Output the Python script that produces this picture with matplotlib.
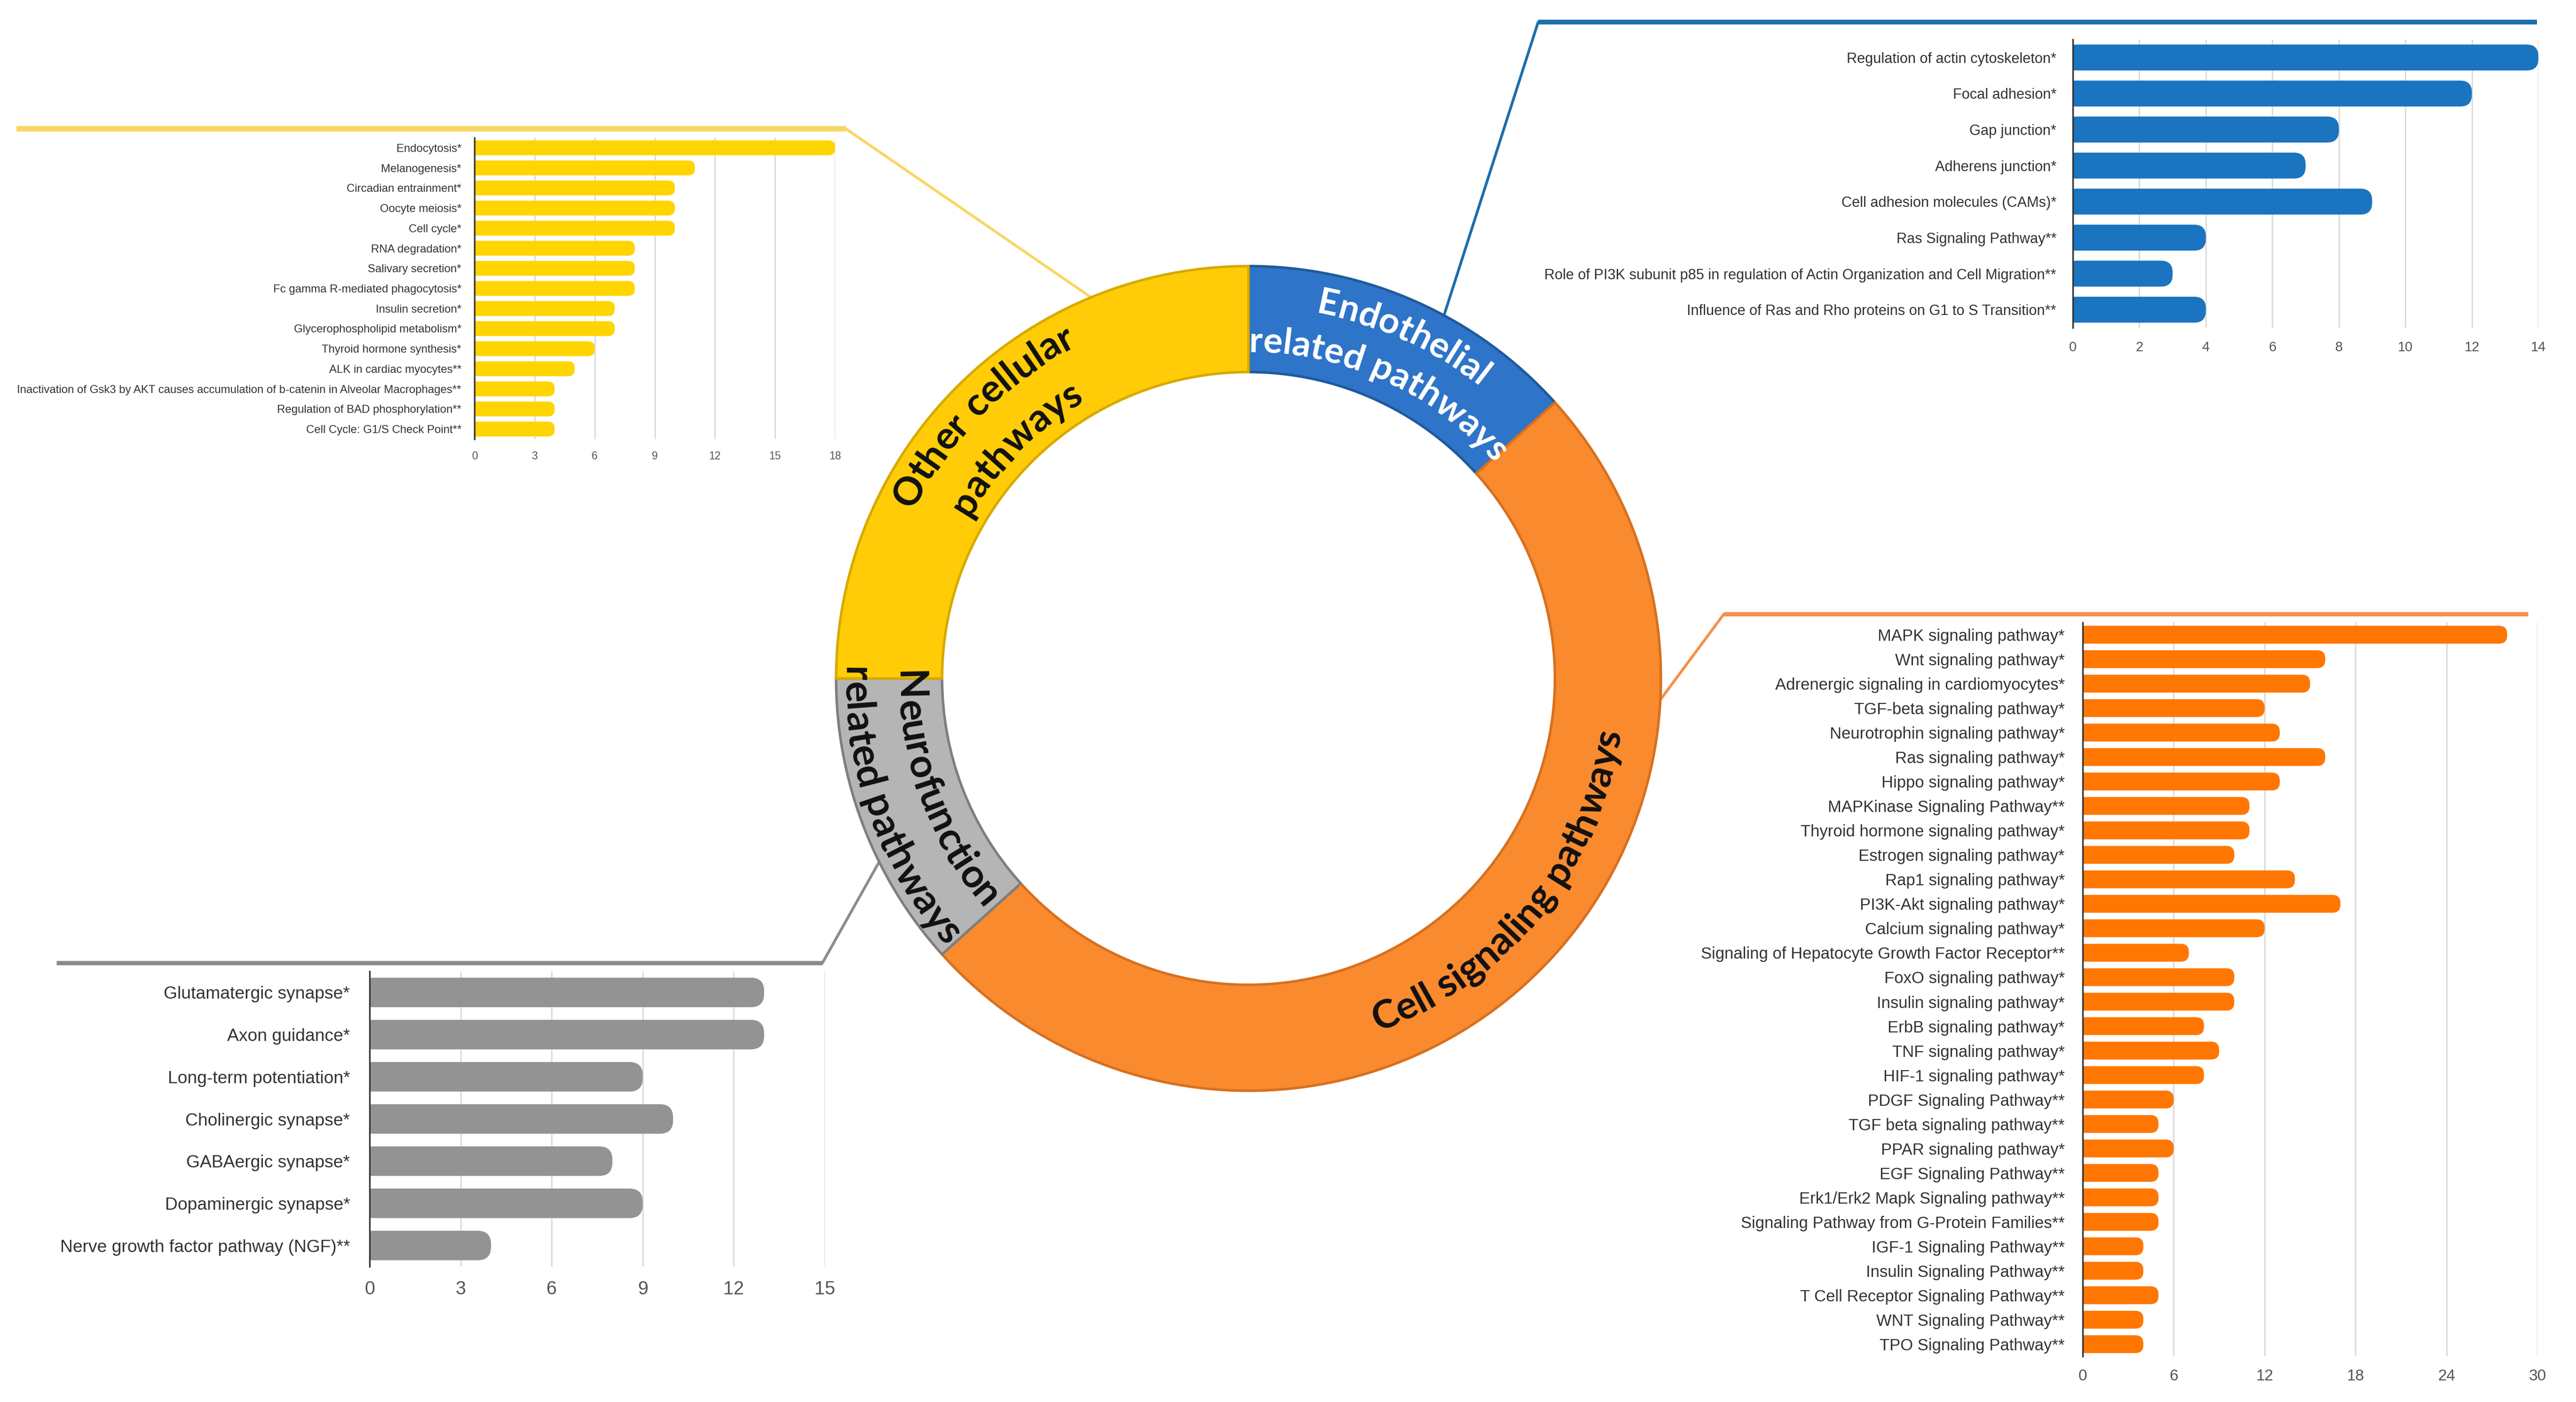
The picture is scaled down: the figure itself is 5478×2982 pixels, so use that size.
import math
import numpy as np
import matplotlib
matplotlib.use("Agg")
import matplotlib.pyplot as plt
from matplotlib.patches import FancyBboxPatch
from matplotlib.font_manager import FontProperties
from matplotlib import font_manager, ft2font

# ---------------- data ----------------
other_labels = ["Endocytosis*", "Melanogenesis*", "Circadian entrainment*", "Oocyte meiosis*",
                "Cell cycle*", "RNA degradation*", "Salivary secretion*",
                "Fc gamma R-mediated phagocytosis*", "Insulin secretion*",
                "Glycerophospholipid metabolism*", "Thyroid hormone synthesis*",
                "ALK in cardiac myocytes**",
                "Inactivation of Gsk3 by AKT causes accumulation of b-catenin in Alveolar Macrophages**",
                "Regulation of BAD phosphorylation**", "Cell Cycle: G1/S Check Point**"]
other_values = [18, 11, 10, 10, 10, 8, 8, 8, 7, 7, 6, 5, 4, 4, 4]
other_ticks = [0, 3, 6, 9, 12, 15, 18]

endo_labels = ["Regulation of actin cytoskeleton*", "Focal adhesion*", "Gap junction*",
               "Adherens junction*", "Cell adhesion molecules (CAMs)*", "Ras Signaling Pathway**",
               "Role of PI3K subunit p85 in regulation of Actin Organization and Cell Migration**",
               "Influence of Ras and Rho proteins on G1 to S Transition**"]
endo_values = [14, 12, 8, 7, 9, 4, 3, 4]
endo_ticks = [0, 2, 4, 6, 8, 10, 12, 14]

cell_labels = ["MAPK signaling pathway*", "Wnt signaling pathway*",
               "Adrenergic signaling in cardiomyocytes*", "TGF-beta signaling pathway*",
               "Neurotrophin signaling pathway*", "Ras signaling pathway*", "Hippo signaling pathway*",
               "MAPKinase Signaling Pathway**", "Thyroid hormone signaling pathway*",
               "Estrogen signaling pathway*", "Rap1 signaling pathway*", "PI3K-Akt signaling pathway*",
               "Calcium signaling pathway*", "Signaling of Hepatocyte Growth Factor Receptor**",
               "FoxO signaling pathway*", "Insulin signaling pathway*", "ErbB signaling pathway*",
               "TNF signaling pathway*", "HIF-1 signaling pathway*", "PDGF Signaling Pathway**",
               "TGF beta signaling pathway**", "PPAR signaling pathway*", "EGF Signaling Pathway**",
               "Erk1/Erk2 Mapk Signaling pathway**", "Signaling Pathway from G-Protein Families**",
               "IGF-1 Signaling Pathway**", "Insulin Signaling Pathway**",
               "T Cell Receptor Signaling Pathway**", "WNT Signaling Pathway**",
               "TPO Signaling Pathway**"]
cell_values = [28, 16, 15, 12, 13, 16, 13, 11, 11, 10, 14, 17, 12, 7, 10, 10, 8, 9, 8, 6,
               5, 6, 5, 5, 5, 4, 4, 5, 4, 4]
cell_ticks = [0, 6, 12, 18, 24, 30]

neuro_labels = ["Glutamatergic synapse*", "Axon guidance*", "Long-term potentiation*",
                "Cholinergic synapse*", "GABAergic synapse*", "Dopaminergic synapse*",
                "Nerve growth factor pathway (NGF)**"]
neuro_values = [13, 13, 9, 10, 8, 9, 4]
neuro_ticks = [0, 3, 6, 9, 12, 15]

# ring: clockwise from top -> endothelial, cell signaling, neurofunction, other
ring_names = ["Endothelial related pathways", "Cell signaling pathways",
              "Neurofunction related pathways", "Other cellular pathways"]
ring_counts = [len(endo_labels), len(cell_labels), len(neuro_labels), len(other_labels)]

# ---------------- style ----------------
W, H, DPI = 5478, 2982, 300
plt.rcParams["font.family"] = ["Liberation Sans", "DejaVu Sans"]

fig = plt.figure(figsize=(W / DPI, H / DPI), dpi=DPI, facecolor="white")

# background overlay (image-pixel coordinates) for connector lines
ax_bg = fig.add_axes([0, 0, 1, 1], zorder=0)
ax_bg.set_xlim(0, W)
ax_bg.set_ylim(H, 0)
ax_bg.axis("off")


def connector(pts, color, lw_h, lw_d):
    (x0, y0), (x1, y1), (x2, y2) = pts
    ax_bg.plot([x0, x1], [y0, y1], color=color, lw=lw_h, solid_capstyle="butt")
    ax_bg.plot([x1, x2], [y1, y2], color=color, lw=lw_d, solid_capstyle="round")


connector([(35, 274), (1799, 274), (2334, 642)], "#F8D665", 2.8, 1.4)
connector([(5395, 47), (3271, 47), (3071, 670)], "#1B6FAA", 2.4, 1.4)
connector([(5376, 1306), (3666, 1306), (3520, 1503)], "#F6904A", 2.2, 1.4)
connector([(120, 2048), (1749, 2048), (1868, 1836)], "#8C8C8C", 2.2, 1.4)


def panel(rect, labels, values, ticks, color, lab_fs, tick_fs, lab_pad, tick_pad, bar_h):
    l, t, r, b = rect
    ax = fig.add_axes([l / W, 1 - b / H, (r - l) / W, (b - t) / H], zorder=1)
    ax.patch.set_visible(False)
    n = len(values)
    ypos = np.arange(n)
    bars = ax.barh(ypos, values, height=bar_h, color=color)
    ax.set_xlim(ticks[0], ticks[-1])
    ax.set_ylim(n - 0.5, -0.5)
    ppx = (r - l) / (ticks[-1] - ticks[0])
    ppy = (b - t) / n
    for bar in bars:
        bx, by, bw, bh = bar.get_x(), bar.get_y(), bar.get_width(), bar.get_height()
        rs = bh * ppy * 0.45 / ppx
        fb = FancyBboxPatch((bx - rs * 0.7, by), bw + rs * 0.7, bh,
                            boxstyle=f"round,pad=0,rounding_size={rs}",
                            mutation_aspect=ppx / ppy, fc=color, ec="none")
        ax.add_patch(fb)
        bar.set_visible(False)
    ax.set_yticks(ypos, labels, fontsize=lab_fs, color="#333333")
    ax.set_xticks(ticks, [str(v) for v in ticks], fontsize=tick_fs, color="#555555")
    ax.tick_params(axis="both", length=0)
    ax.tick_params(axis="y", pad=lab_pad)
    ax.tick_params(axis="x", pad=tick_pad)
    for s in ["top", "right", "bottom"]:
        ax.spines[s].set_visible(False)
    ax.spines["left"].set_color("#333333")
    ax.spines["left"].set_linewidth(0.8)
    ax.grid(axis="x", color="#DADADA", lw=0.7)
    ax.set_axisbelow(True)
    return ax


panel((1009, 293, 1776, 934), other_labels, other_values, other_ticks, "#FFD500",
      5.75, 5.5, 6.7, 6.0, 0.74)
panel((4408, 84, 5398, 697), endo_labels, endo_values, endo_ticks, "#1A74BF",
      7.4, 7.0, 8.4, 6.8, 0.72)
panel((4429, 1324, 5396, 2885), cell_labels, cell_values, cell_ticks, "#FF7700",
      8.3, 8.0, 9.2, 6.5, 0.73)
panel((786, 2066, 1754, 2694), neuro_labels, neuro_values, neuro_ticks, "#939393",
      8.95, 9.5, 10.0, 7.0, 0.70)

# ---------------- donut ----------------
CX, CY, R = 2655, 1443, 877
side = 2 * R * 1.06
ax_p = fig.add_axes([(CX - side / 2) / W, 1 - (CY + side / 2) / H, side / W, side / H], zorder=2)
ring_colors = ["#2E74C8", "#F98A2E", "#B5B5B5", "#FFCC07"]
ring_edges = ["#1F5A9C", "#D7701F", "#7E7E7E", "#D6AA00"]
wedges, _ = ax_p.pie(ring_counts, colors=ring_colors, startangle=90, counterclock=False,
                     radius=1, wedgeprops=dict(width=0.257, linewidth=1.3))
for w, ec in zip(wedges, ring_edges):
    w.set_edgecolor(ec)
ax_p.set_xlim(-1.06, 1.06)
ax_p.set_ylim(-1.06, 1.06)
ax_p.set_aspect("equal")
ax_p.axis("off")

ax_fg = fig.add_axes([0, 0, 1, 1], zorder=3)
ax_fg.set_xlim(0, W)
ax_fg.set_ylim(H, 0)
ax_fg.axis("off")

ring_fp = FontProperties(family=["Lato", "DejaVu Sans"], weight="bold")
ring_path = font_manager.findfont(ring_fp)


def advances(s, size_pt):
    f = ft2font.FT2Font(ring_path)
    f.set_size(size_pt, DPI)
    out = []
    for c in s:
        g = f.load_char(ord(c))
        out.append(g.linearHoriAdvance / 65536.0)
    return out


def fit_size(s, span_deg, r):
    target = math.radians(span_deg) * r
    return target / sum(advances(s, 1.0))


def arc_text(s, r_c, ang_c, size_pt, color, cw):
    fp = ring_fp.copy()
    fp.set_size(size_pt)
    adv = advances(s, size_pt)
    total = sum(adv)
    size_px = size_pt * DPI / 72
    rb = r_c - 0.36 * size_px if cw else r_c + 0.36 * size_px
    pos = -total / 2
    for c, a in zip(s, adv):
        mid = pos + a / 2
        pos += a
        if c == " ":
            continue
        d = math.degrees(mid / rb)
        if cw:
            phi = ang_c - d
            rot = phi - 90
        else:
            phi = ang_c + d
            rot = phi + 90
        x = CX + rb * math.cos(math.radians(phi))
        y = CY - rb * math.sin(math.radians(phi))
        ax_fg.text(x, y, c, fontproperties=fp, color=color, rotation=rot,
                   rotation_mode="anchor", ha="center", va="baseline")


ring_text = [
    # lines, radii, spans, center angle, color, clockwise
    (["Other cellular", "pathways"], [828, 715], [33, 29.4], 135.3, "#111111", True),
    (["Endothelial", "related pathways"], [818, 722], [27, 46], 65.6, "white", True),
    (["Cell signaling pathways"], [770], [63.5], -39, "#111111", False),
    (["Neurofunction", "related pathways"], [717, 830], [42.5, 45.6], 200, "#111111", False),
]
for lines, radii, spans, ang, col, cw in ring_text:
    sizes = [fit_size(s, sp, r) for s, sp, r in zip(lines, spans, radii)]
    sz = float(np.mean(sizes))
    for s, r in zip(lines, radii):
        arc_text(s, r, ang, sz, col, cw)

fig.savefig("out.png", dpi=DPI, facecolor="white")
